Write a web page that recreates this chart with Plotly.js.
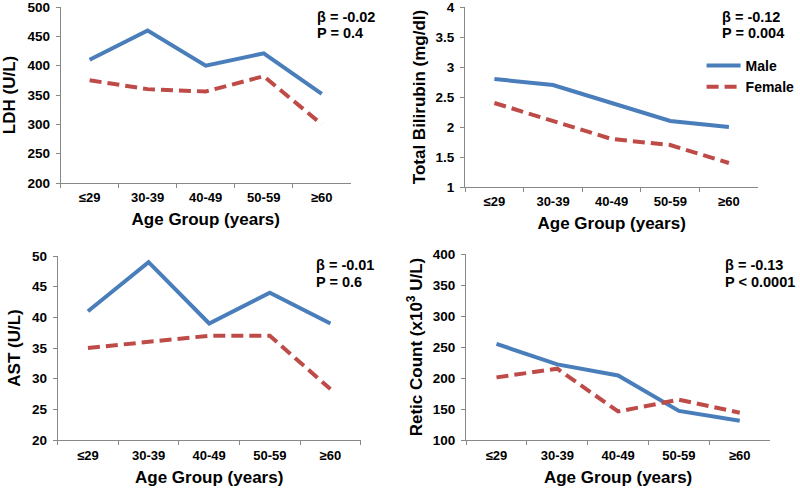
<!DOCTYPE html>
<html>
<head>
<meta charset="utf-8">
<script src="https://cdn.plot.ly/plotly-3.0.1.min.js"></script>
<style>html,body{margin:0;padding:0;background:#fff;}#chart{width:800px;height:488px;}</style>
</head>
<body>
<div id="chart"></div>
<script>
const ageGroups = ["≤29", "30-39", "40-49", "50-59", "≥60"];

const ldhMale = [410, 460, 400, 421, 352];
const ldhFemale = [375, 360, 356, 382, 300];

const biliMale = [2.8, 2.7, 2.4, 2.1, 2.0];
const biliFemale = [2.4, 2.1, 1.8, 1.7, 1.4];

const astMale = [41, 49, 39, 44, 39];
const astFemale = [35, 36, 37, 37, 28.3];

const reticMale = [255, 222, 204, 147, 131];
const reticFemale = [201, 215, 146, 165, 144];

const seriesNames = ["Male", "Female"];
const panelStats = [
  ["β = -0.02", "P = 0.4"],
  ["β = -0.12", "P = 0.004"],
  ["β = -0.01", "P = 0.6"],
  ["β = -0.13", "P < 0.0001"]
];
const yTitles = ["LDH (U/L)", "Total Bilirubin (mg/dl)", "AST (U/L)", "Retic Count (x10<sup>3</sup> U/L)"];
const xTitle = "Age Group (years)";

const FONT = "Arial, 'Liberation Sans', sans-serif";
const BLUE = "#4A7EBB";
const RED = "#BE4B48";
const AXC = "#888888";

const panels = [
  {male: ldhMale, female: ldhFemale, x: "x", y: "y", legend: false},
  {male: biliMale, female: biliFemale, x: "x2", y: "y2", legend: true},
  {male: astMale, female: astFemale, x: "x3", y: "y3", legend: false},
  {male: reticMale, female: reticFemale, x: "x4", y: "y4", legend: false}
];

const traces = [];
panels.forEach(p => {
  traces.push({x: ageGroups, y: p.male, xaxis: p.x, yaxis: p.y, type: "scatter", mode: "lines",
    name: seriesNames[0], showlegend: p.legend, line: {color: BLUE, width: 4}});
  traces.push({x: ageGroups, y: p.female, xaxis: p.x, yaxis: p.y, type: "scatter", mode: "lines",
    name: seriesNames[1], showlegend: p.legend, line: {color: RED, width: 4, dash: "12px,6px"}});
});

function xax(domain, anchor, labOff, titleOff) {
  return {domain: domain, anchor: anchor, type: "category", range: [-0.5, 4.5],
    showline: true, linecolor: AXC, linewidth: 1, showgrid: false, zeroline: false,
    ticks: "outside", tickson: "boundaries", ticklen: 4, tickcolor: AXC,
    ticklabelstandoff: labOff, ticklabeloverflow: "allow",
    tickfont: {family: FONT, size: 13, color: "#000", weight: "bold"},
    title: {text: xTitle, font: {family: FONT, size: 17, color: "#000", weight: "bold"}, standoff: titleOff},
    fixedrange: true};
}
function yax(domain, anchor, range, dtick, title, titleOff) {
  return {domain: domain, anchor: anchor, range: range, dtick: dtick,
    showline: true, linecolor: AXC, linewidth: 1, showgrid: false, zeroline: false,
    ticks: "outside", ticklen: 4, tickcolor: AXC,
    ticklabelstandoff: 3, ticklabeloverflow: "allow",
    tickfont: {family: FONT, size: 13.5, color: "#000", weight: "bold"},
    title: {text: title, font: {family: FONT, size: 17, color: "#000", weight: "bold"}, standoff: titleOff},
    fixedrange: true};
}

const W = 800, H = 488;
const px = v => v / W;
const py = v => 1 - v / H;

const layout = {
  width: W, height: H,
  margin: {l: 0, r: 0, t: 0, b: 0},
  paper_bgcolor: "#fff", plot_bgcolor: "#fff",
  font: {family: FONT, color: "#000"},
  xaxis: xax([px(61), px(353)], "y", 2, 9),
  yaxis: yax([py(183), py(7)], "x", [200, 500.001], 50, yTitles[0], 11),
  xaxis2: xax([px(468), px(763)], "y2", 2, 9),
  yaxis2: yax([py(187), py(7)], "x2", [1, 4.00001], 0.5, yTitles[1], 5),
  xaxis3: xax([px(58), px(363)], "y3", 3, 9),
  yaxis3: yax([py(440), py(256)], "x3", [20, 50], 5, yTitles[2], 6),
  xaxis4: xax([px(469), px(775)], "y4", 3, 9),
  yaxis4: yax([py(440), py(254)], "x4", [100, 400], 50, yTitles[3], 5),
  showlegend: true,
  legend: {x: px(706), y: py(50), xanchor: "left", yanchor: "top", bgcolor: "rgba(0,0,0,0)",
    font: {family: FONT, size: 14, color: "#000", weight: "bold"}, tracegroupgap: 0, itemwidth: 34},
  annotations: []
};

const statPos = [[317, 17, 33], [725, 17, 33], [316, 265, 282], [728, 265, 282]];
panelStats.forEach((s, i) => {
  const [x, y1, y2] = statPos[i];
  layout.annotations.push({xref: "paper", yref: "paper", x: px(x), y: py(y1), xanchor: "left", yanchor: "middle",
    text: s[0], showarrow: false, font: {family: FONT, size: 14.5, color: "#000", weight: "bold"}});
  layout.annotations.push({xref: "paper", yref: "paper", x: px(x), y: py(y2), xanchor: "left", yanchor: "middle",
    text: s[1], showarrow: false, font: {family: FONT, size: 14.5, color: "#000", weight: "bold"}});
});

Plotly.newPlot("chart", traces, layout, {staticPlot: true, displayModeBar: false});
</script>
</body>
</html>
